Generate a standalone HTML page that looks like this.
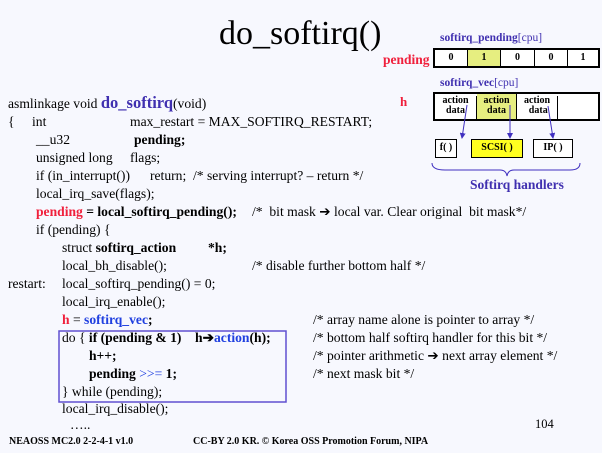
<!DOCTYPE html>
<html><head><meta charset="utf-8"><style>
body{margin:0;width:602px;height:453px;background:#f7f8fe;position:relative;overflow:hidden;font-family:"Liberation Serif",serif;color:#000}
.l{position:absolute;font-size:13.6px;line-height:18px;white-space:pre}
.b{font-weight:bold}.r{color:#f0203c}.bl{color:#2040e0}.p{color:#4030b0}
.box{position:absolute;border:2px solid #000;box-sizing:border-box;display:flex}
.box div{border-right:1.5px solid #000;box-sizing:border-box;text-align:center;font-weight:bold;font-size:10px}
.box div:last-child{border-right:none}
.h{position:absolute;border:1.5px solid #000;box-sizing:border-box;text-align:center;font-weight:bold;font-size:10px;line-height:16px;background:#fff}
</style></head><body>
<div class="l" style="left:219px;top:14px;font-size:34px;line-height:40px">do_softirq()</div>

<div class="l b p" style="left:440px;top:31px;font-size:11.5px;line-height:14px">softirq_pending<span style="font-weight:normal">[cpu]</span></div>
<div class="l b r" style="left:383px;top:51px;font-size:13.5px">pending</div>
<div class="box" style="left:433px;top:48px;width:167px;height:20px;line-height:16px">
<div style="width:33px;background:#fff">0</div><div style="width:33px;background:#e6ee80">1</div><div style="width:34px;background:#fff">0</div><div style="width:33px;background:#fff">0</div><div style="width:30px;background:#fff">1</div></div>
<div class="l b p" style="left:440px;top:76px;font-size:11.5px;line-height:14px">softirq_vec<span style="font-weight:normal">[cpu]</span></div>
<div class="l b r" style="left:400px;top:93px;font-size:13px">h</div>
<div class="box" style="left:433px;top:92px;width:167px;height:29px;line-height:10px;padding-top:2px;background:#fff">
<div style="width:42px">action<br>data</div><div style="width:40px;background:#e6ee80;margin-top:-2px;padding-top:2px">action<br>data</div><div style="width:41px">action<br>&nbsp;data</div><div style="width:40px"></div></div>
<div class="h" style="left:435px;top:139px;width:22px;height:19px">f( )</div>
<div class="h" style="left:471px;top:139px;width:52px;height:19px;background:#ffff20">SCSI( )</div>
<div class="h" style="left:533px;top:139px;width:40px;height:19px">IP( )</div>
<svg style="position:absolute;left:0;top:0" width="602" height="453">
<defs><marker id="a" markerWidth="6" markerHeight="6" refX="5" refY="3" orient="auto"><path d="M0,0L6,3L0,6z" fill="#4030c0"/></marker></defs>
<g stroke="#4030c0" stroke-width="1" fill="none">
<line x1="467" y1="105" x2="462" y2="138" marker-end="url(#a)"/>
<line x1="510" y1="105" x2="510" y2="138" marker-end="url(#a)"/>
<line x1="548" y1="106" x2="553" y2="138" marker-end="url(#a)"/>
<path d="M432,163 Q432,170 445,170 L500,170 Q506,170 507,176 Q508,170 514,170 L570,170 Q580,170 580,163"/>
</g>
<rect x="59" y="331" width="227" height="71" fill="none" stroke="#6050d0" stroke-width="1.5"/>
</svg>
<div class="l b p" style="left:470px;top:176px;font-size:13.5px">Softirq handlers</div>

<div class="l" style="left:8px;top:94px">asmlinkage void <span class="b p" style="font-size:16.5px">do_softirq</span>(void)</div>
<div class="l" style="left:8px;top:113px">{</div><div class="l" style="left:32px;top:113px">int</div><div class="l" style="left:130px;top:113px">max_restart = MAX_SOFTIRQ_RESTART;</div>
<div class="l" style="left:36px;top:131px">__u32</div><div class="l b" style="left:134px;top:131px">pending;</div>
<div class="l" style="left:36px;top:149px">unsigned long</div><div class="l" style="left:130px;top:149px">flags;</div>
<div class="l" style="left:36px;top:167px">if (in_interrupt())</div><div class="l" style="left:150px;top:167px">return;  /* serving interrupt? – return */</div>
<div class="l" style="left:36px;top:185px">local_irq_save(flags);</div>
<div class="l b" style="left:36px;top:203px"><span class="r">pending</span> = local_softirq_pending();</div><div class="l" style="left:252px;top:203px">/*  bit mask ➔ local var. Clear original  bit mask*/</div>
<div class="l" style="left:36px;top:221px">if (pending) {</div>
<div class="l" style="left:62px;top:239px">struct <b>softirq_action</b></div><div class="l b" style="left:208px;top:239px">*h;</div>
<div class="l" style="left:62px;top:257px">local_bh_disable();</div><div class="l" style="left:252px;top:257px">/* disable further bottom half */</div>
<div class="l" style="left:8px;top:275px">restart:</div><div class="l" style="left:62px;top:275px">local_softirq_pending() = 0;</div>
<div class="l" style="left:62px;top:293px">local_irq_enable();</div>
<div class="l b" style="left:62px;top:311px"><span class="r">h</span> <span style="font-weight:normal">=</span> <span class="bl">softirq_vec</span>;</div><div class="l" style="left:313px;top:311px">/* array name alone is pointer to array */</div>
<div class="l" style="left:62px;top:329px">do { <b>if (pending &amp; 1)    h➔<span class="bl">action</span>(h);</b></div><div class="l" style="left:313px;top:329px">/* bottom half softirq handler for this bit */</div>
<div class="l b" style="left:89px;top:347px">h++;</div><div class="l" style="left:313px;top:347px">/* pointer arithmetic ➔ next array element */</div>
<div class="l b" style="left:89px;top:365px">pending <span class="bl" style="font-weight:normal">&gt;&gt;= </span>1;</div><div class="l" style="left:313px;top:365px">/* next mask bit */</div>
<div class="l" style="left:62px;top:383px">} while (pending);</div>
<div class="l" style="left:62px;top:400px">local_irq_disable();</div>
<div class="l" style="left:70px;top:416px">…..</div>
<div class="l" style="left:535px;top:415px;font-size:12.5px">104</div>
<div class="l b" style="left:9px;top:433px;font-size:10px">NEAOSS MC2.0 2-2-4-1 v1.0</div>
<div class="l b" style="left:193px;top:433px;font-size:10px">CC-BY 2.0 KR. © Korea OSS Promotion Forum, NIPA</div>
</body></html>
